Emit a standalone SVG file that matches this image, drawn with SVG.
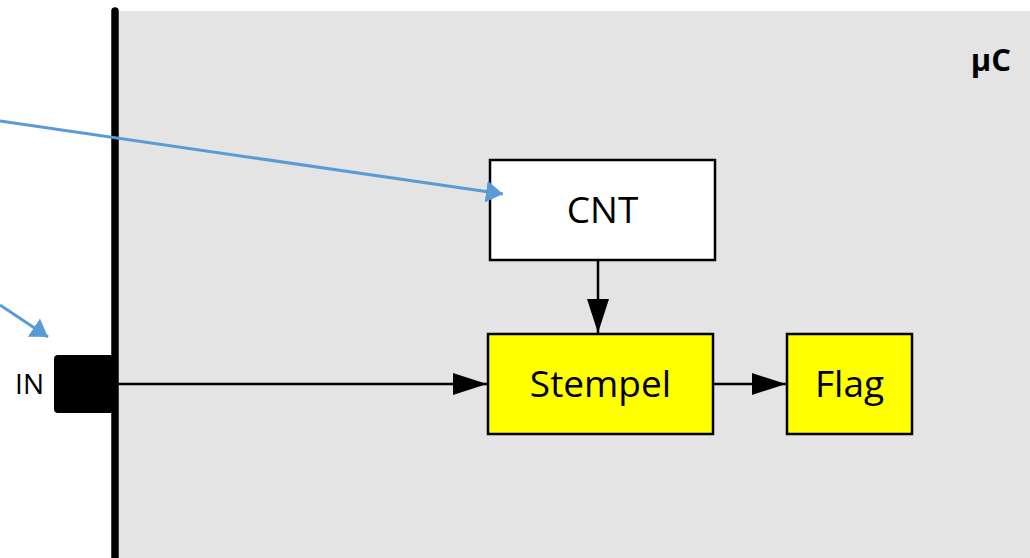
<svg xmlns="http://www.w3.org/2000/svg" width="1030" height="558" viewBox="0 0 1030 558">
  <style>
    .box { stroke: #000; stroke-width: 2.5; }
    .label { font-family: "Open Sans", "Liberation Sans", sans-serif; fill: #000; }
    .flow { stroke: #000; stroke-width: 2.5; fill: none; }
    .ref { stroke: #5b9bd5; stroke-width: 3; fill: none; }
  </style>
  <defs>
    <marker id="arrow-black" markerUnits="userSpaceOnUse" markerWidth="34" markerHeight="24" refX="34" refY="12" orient="auto">
      <path d="M0,1 L34,12 L0,23 Z" fill="#000"/>
    </marker>
    <marker id="arrow-blue" markerUnits="userSpaceOnUse" markerWidth="17" markerHeight="22" refX="17" refY="11" orient="auto">
      <path d="M0,0 L17,11 L0,22 Z" fill="#5b9bd5"/>
    </marker>
  </defs>

  <!-- microcontroller body -->
  <g id="mcu">
    <rect x="118" y="11" width="912" height="547" fill="#e4e4e4"/>
    <line x1="115" y1="11" x2="115" y2="560" stroke="#000" stroke-width="7.5" stroke-linecap="round"/>
    <text class="label" x="1011" y="71" font-size="31" font-weight="bold" text-anchor="end">µC</text>
  </g>

  <!-- input pin -->
  <g id="pin-in">
    <rect x="54" y="355" width="64" height="58" rx="4" fill="#000"/>
    <text class="label" x="44" y="394" font-size="28" text-anchor="end">IN</text>
  </g>

  <g id="cnt">
    <rect class="box" x="490" y="160" width="225" height="100" fill="#fff"/>
    <text class="label" x="602.5" y="223" font-size="37" text-anchor="middle">CNT</text>
  </g>

  <g id="stempel">
    <rect class="box" x="488" y="334" width="225" height="100" fill="#ffff00"/>
    <text class="label" x="600.5" y="397" font-size="37" text-anchor="middle">Stempel</text>
  </g>

  <g id="flag">
    <rect class="box" x="787" y="334" width="125" height="100" fill="#ffff00"/>
    <text class="label" x="849.5" y="397" font-size="37" text-anchor="middle">Flag</text>
  </g>

  <g id="connectors">
    <line class="flow" x1="598" y1="260" x2="598" y2="333" marker-end="url(#arrow-black)"/>
    <line class="flow" x1="118" y1="384" x2="487" y2="384" marker-end="url(#arrow-black)"/>
    <line class="flow" x1="713" y1="384" x2="786" y2="384" marker-end="url(#arrow-black)"/>
    <line class="ref" x1="0" y1="121" x2="503" y2="194" marker-end="url(#arrow-blue)"/>
    <line class="ref" x1="0" y1="305" x2="48" y2="337" marker-end="url(#arrow-blue)"/>
  </g>
</svg>
